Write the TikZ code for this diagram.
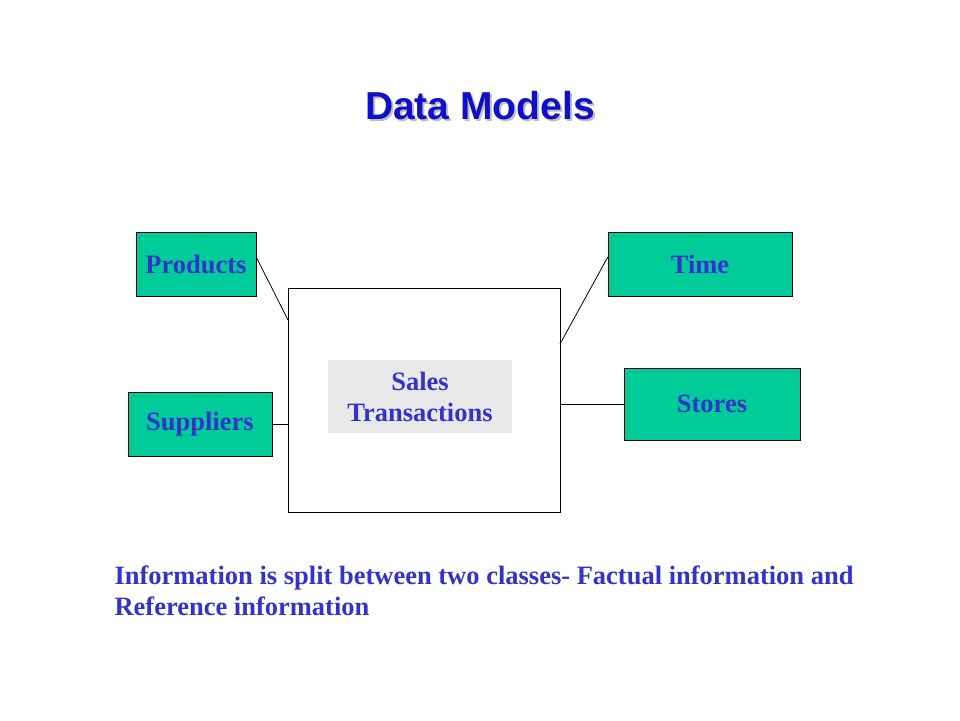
\documentclass[tikz,border=0pt]{standalone}
\usepackage{fontspec}
\setmainfont{Liberation Serif}
\newfontfamily\titlefont{Liberation Sans}
\definecolor{boxgreen}{RGB}{0,204,153}
\definecolor{textblue}{RGB}{51,51,204}
\definecolor{titleblue}{RGB}{16,16,200}
\definecolor{salesgray}{RGB}{232,232,232}
\begin{document}
\begin{tikzpicture}[x=1pt, y=-1pt]
        \tikzstyle{dim} = [draw, black, fill=boxgreen, inner sep=0pt, text=textblue,
            font=\fontsize{26.5}{31}\selectfont\bfseries]
        \tikzstyle{blk} = [draw, black, line width=0.8pt]
        \useasboundingbox (0, 0) rectangle (960, 720);

        % title with its shadow
        \node[text=black!25, font=\titlefont\fontsize{39}{44}\selectfont\bfseries] (shadow) at (482, 108) {Data Models};
        \node[text=titleblue, font=\titlefont\fontsize{39}{44}\selectfont\bfseries] (title) at (480, 106) {Data Models};

        \node[draw, black, line width=0.8pt, minimum width=272, minimum height=224] (fact) at (424, 400) {};
        \node[fill=salesgray, inner sep=0pt, minimum width=184, minimum height=73, align=center,
            text=textblue, font=\fontsize{26.5}{31}\selectfont\bfseries] (sales) at (420, 396.5) {\raisebox{-2pt}{Sales}\\\raisebox{-2pt}{Transactions}};

        \node[dim, minimum width=120, minimum height=64] (products) at (196, 264) {\raisebox{-1pt}{Products}};
        \node[dim, minimum width=144, minimum height=64] (suppliers) at (200, 424) {\raisebox{-1pt}{Suppliers}};
        \node[dim, minimum width=184, minimum height=64] (time) at (700, 264) {\raisebox{-1pt}{Time}};
        \node[dim, minimum width=176, minimum height=72] (stores) at (712, 404) {\raisebox{-1pt}{Stores}};

        \coordinate (factP) at (288, 320);
        \coordinate (factT) at (560, 344);
        \path[blk] (products.east) ++(0, -7) coordinate (prodE) to (factP);
        \path[blk] (suppliers) to (suppliers -| fact.west);
        \path[blk] (time.west) ++(0, -7) coordinate (timeW) to (factT);
        \path[blk] (stores) to (stores -| fact.east);

        \node[anchor=north west, align=left, text=textblue, font=\fontsize{26.5}{31}\selectfont\bfseries] (note) at (111, 562)
            {Information is split between two classes- Factual information and\\Reference information};
    \end{tikzpicture}
\end{document}
